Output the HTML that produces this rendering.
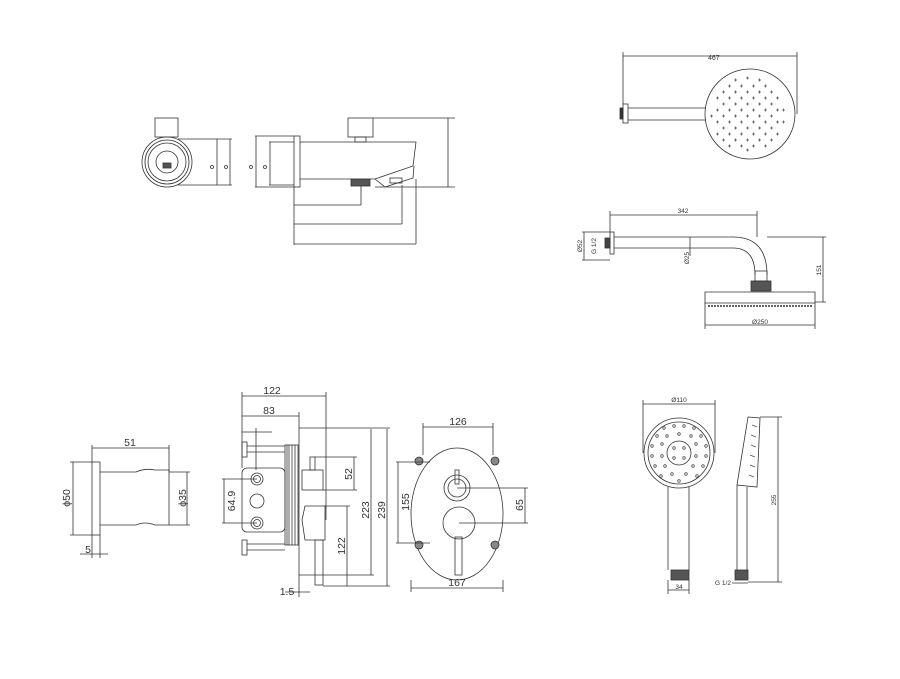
<!DOCTYPE html>
<html><head><meta charset="utf-8"><style>
html,body{margin:0;padding:0;background:#fff;}
svg{display:block;}
text{font-family:"Liberation Sans",sans-serif;fill:#333;}
</style></head><body>
<svg width="900" height="679" viewBox="0 0 900 679" xmlns="http://www.w3.org/2000/svg">
<g fill="none" stroke="#333" stroke-width="0.8">
<!-- top-left spout front view -->
<rect x="155" y="118" width="23" height="19"/>
<circle cx="167" cy="162" r="25"/><circle cx="167" cy="162" r="22"/><circle cx="167" cy="162" r="19"/>
<circle cx="167" cy="162" r="11"/>
<rect x="163" y="163" width="8" height="5" fill="#555"/>
<path d="M178 139H232M178 185H232M217 139V185M230 139V185"/>
<circle cx="212" cy="167" r="1.5"/><circle cx="226" cy="167" r="1.5"/>
<!-- spout side -->
<rect x="294" y="136" width="6" height="51"/>
<rect x="348" y="118" width="25" height="19"/>
<rect x="355" y="137" width="11" height="5"/>
<path d="M300 142H416L413 166L375 179H300"/>
<rect x="351" y="179" width="19" height="7" fill="#555"/>
<path d="M375 179L385 187L413 178L414 166"/>
<rect x="390" y="178" width="12" height="5"/>
<path d="M255 136H294M255 187H294M256 136V187M269 142H294M269 185H294M270 142V185"/>
<circle cx="251" cy="167" r="1.5"/><circle cx="265" cy="167" r="1.5"/>
<path d="M294 187V245M361 186V205M294 205H361M402 185V224M294 224H402M416 179V244M294 244H416"/>
<path d="M373 118H455M375 187H455M448 118V187"/>
<!-- shower head top view -->
<path d="M623 56H797M623 52V104M797 52V114"/>
<rect x="623" y="104" width="5" height="19"/>
<rect x="620" y="108" width="3" height="11" fill="#333"/>
<path d="M628 108H706M628 120H706"/>
<circle cx="750" cy="114" r="45"/>
</g>
<g fill="#555" font-size="7">
<text x="708" y="60">467</text>
</g>
<g stroke="#555" stroke-width="0.8">
<!-- nozzles pattern -->
<path d="M716 98h3M717.5 96.5v3 M728 98h3M729.5 96.5v3 M740 98h3M741.5 96.5v3 M752 98h3M753.5 96.5v3 M764 98h3M765.5 96.5v3 M776 98h3M777.5 96.5v3
M716 110h3M717.5 108.5v3 M728 110h3M729.5 108.5v3 M740 110h3M741.5 108.5v3 M752 110h3M753.5 108.5v3 M764 110h3M765.5 108.5v3 M776 110h3M777.5 108.5v3
M716 122h3M717.5 120.5v3 M728 122h3M729.5 120.5v3 M740 122h3M741.5 120.5v3 M752 122h3M753.5 120.5v3 M764 122h3M765.5 120.5v3 M776 122h3M777.5 120.5v3
M716 134h3M717.5 132.5v3 M728 134h3M729.5 132.5v3 M740 134h3M741.5 132.5v3 M752 134h3M753.5 132.5v3 M764 134h3M765.5 132.5v3 M776 134h3M777.5 132.5v3
M728 86h3M729.5 84.5v3 M740 86h3M741.5 84.5v3 M752 86h3M753.5 84.5v3 M764 86h3M765.5 84.5v3 M734 80h3M735.5 78.5v3 M746 78h3M747.5 76.5v3 M758 80h3M759.5 78.5v3
M728 146h3M729.5 144.5v3 M740 146h3M741.5 144.5v3 M752 146h3M753.5 144.5v3 M764 146h3M765.5 144.5v3 M746 150h3M747.5 148.5v3
M722 104h3M723.5 102.5v3 M734 104h3M735.5 102.5v3 M746 104h3M747.5 102.5v3 M758 104h3M759.5 102.5v3 M770 104h3M771.5 102.5v3 M782 110h3M783.5 108.5v3
M722 116h3M723.5 114.5v3 M734 116h3M735.5 114.5v3 M746 116h3M747.5 114.5v3 M758 116h3M759.5 114.5v3 M770 116h3M771.5 114.5v3 M782 122h3M783.5 120.5v3
M722 128h3M723.5 126.5v3 M734 128h3M735.5 126.5v3 M746 128h3M747.5 126.5v3 M758 128h3M759.5 126.5v3 M770 128h3M771.5 126.5v3 M710 116h3M711.5 114.5v3
M722 92h3M723.5 90.5v3 M734 92h3M735.5 90.5v3 M746 92h3M747.5 90.5v3 M758 92h3M759.5 90.5v3 M770 92h3M771.5 90.5v3
M722 140h3M723.5 138.5v3 M734 140h3M735.5 138.5v3 M746 140h3M747.5 138.5v3 M758 140h3M759.5 138.5v3 M770 140h3M771.5 138.5v3"/>
</g>
<g fill="none" stroke="#333" stroke-width="0.8">
<!-- shower side -->
<path d="M610 211V232M757 211V237M610 215H757"/>
<rect x="610" y="232" width="4" height="22"/>
<rect x="605" y="238" width="5" height="10" fill="#444"/>
<path d="M614 237H733Q767 237 767 275M614 248H733Q755 248 755 275"/>
<rect x="755" y="271" width="12" height="10"/>
<rect x="751" y="281" width="20" height="10" fill="#555"/>
<path d="M705 292H815V303H705Z"/>
<path d="M708 306H812" stroke-dasharray="2 1" stroke-width="1.5"/>
<path d="M705 303V329M815 303V329M705 325H815"/>
<path d="M582 232H610M582 260H610M584 232V260"/>
<path d="M690 237V256"/>
<path d="M767 237H826M815 302H826M823 237V302"/>
<!-- wall outlet -->
<rect x="92" y="462" width="8" height="73"/>
<path d="M100 472H136Q145 468 155 470H169V525H155Q145 521 136 525H100"/>
<path d="M92 445V462M169 445V472M92 448H169"/>
<path d="M70 462H92M70 535H92M73 462V535"/>
<path d="M169 472H190M169 525H190M187 472V525"/>
<path d="M92 535V558M100 535V558M80 554H108"/>
<!-- mixer body -->
<path d="M242 392V468M326 392V520M242 396H326M242 416H299M299 412V597"/>
<rect x="285" y="445" width="13" height="100"/>
<path d="M287 445V545M289 445V545M292 445V545M295 445V545"/>
<rect x="242" y="468" width="43" height="64" rx="5"/>
<rect x="242" y="442" width="5" height="15"/><path d="M247 446H285M247 452H285"/>
<rect x="242" y="540" width="5" height="15"/><path d="M247 544H285M247 550H285"/>
<path d="M242 432H272M256 428V470"/>
<circle cx="257" cy="479" r="6"/><circle cx="257" cy="479" r="3.5"/>
<circle cx="257" cy="501" r="7"/>
<circle cx="257" cy="523" r="6"/><circle cx="257" cy="523" r="3.5"/>
<path d="M222 479H257M222 523H257M224 479V523"/>
<rect x="310" y="457" width="5" height="13"/>
<rect x="302" y="470" width="21" height="20"/>
<path d="M305 506H325V540H305L302 520Z"/>
<rect x="315" y="540" width="8" height="45"/>
<path d="M299 428H390M315 457H357M323 490H357M354 457V490"/>
<path d="M325 506H350M323 586H390M347 506V586M299 575H374M371 429V575M387 429V586"/>
<path d="M285 592H299M299 592H310"/>
<!-- faceplate -->
<ellipse cx="457" cy="514" rx="46" ry="66"/>
<circle cx="419" cy="461" r="4" fill="#888"/><circle cx="495" cy="461" r="4" fill="#888"/>
<circle cx="419" cy="545" r="4" fill="#888"/><circle cx="495" cy="545" r="4" fill="#888"/>
<circle cx="457" cy="488" r="13"/><circle cx="457" cy="488" r="9"/>
<rect x="455" y="470" width="4" height="14"/>
<circle cx="459" cy="523" r="16"/>
<rect x="455" y="537" width="7" height="38"/>
<path d="M423 423V455M493 423V455M423 427H493"/>
<path d="M411 580V592M503 580V592M411 588H503"/>
<path d="M396 462H430M396 543H430M398 462V543"/>
<path d="M457 488H528M459 523H528M525 488V523"/>
<!-- hand shower front -->
<path d="M643 400V453M715 400V453M643 404H715"/>
<circle cx="679" cy="453" r="35"/><circle cx="679" cy="453" r="31"/>
<circle cx="679" cy="453" r="12"/>
<path d="M668 487V570M689 487V570"/>
<rect x="671" y="570" width="18" height="10" fill="#555"/>
<path d="M668 580V594M689 580V594M668 590H689"/>
<!-- hand shower side -->
<path d="M748 417L760 418L757 487L737 485Z"/>
<path d="M737 485V570M747 487V570"/>
<rect x="735" y="570" width="13" height="10" fill="#555"/>
<path d="M760 417H782M748 582H782M778 417V582M732 583H748"/>
</g>
<g fill="none" stroke="#555" stroke-width="0.8">
<circle cx="664" cy="428" r="1.3"/><circle cx="674" cy="426" r="1.3"/><circle cx="684" cy="426" r="1.3"/><circle cx="694" cy="428" r="1.3"/>
<circle cx="657" cy="436" r="1.3"/><circle cx="667" cy="436" r="1.3"/><circle cx="679" cy="434" r="1.3"/><circle cx="691" cy="436" r="1.3"/><circle cx="701" cy="436" r="1.3"/>
<circle cx="652" cy="446" r="1.3"/><circle cx="662" cy="444" r="1.3"/><circle cx="696" cy="444" r="1.3"/><circle cx="706" cy="446" r="1.3"/>
<circle cx="652" cy="456" r="1.3"/><circle cx="662" cy="456" r="1.3"/><circle cx="696" cy="456" r="1.3"/><circle cx="706" cy="456" r="1.3"/>
<circle cx="655" cy="466" r="1.3"/><circle cx="665" cy="466" r="1.3"/><circle cx="693" cy="466" r="1.3"/><circle cx="703" cy="466" r="1.3"/>
<circle cx="661" cy="476" r="1.3"/><circle cx="672" cy="474" r="1.3"/><circle cx="686" cy="474" r="1.3"/><circle cx="697" cy="476" r="1.3"/><circle cx="679" cy="481" r="1.3"/>
<circle cx="674" cy="448" r="1.3"/><circle cx="684" cy="448" r="1.3"/><circle cx="674" cy="458" r="1.3"/><circle cx="684" cy="458" r="1.3"/>
<path d="M752 425l5 2M751 435l5 2M751 445l5 2M750 455l5 2M750 465l5 2M749 475l5 2"/>
</g>
<g font-size="10.5">
<text x="272" y="394" text-anchor="middle">122</text>
<text x="269" y="414" text-anchor="middle">83</text>
<text x="130" y="446" text-anchor="middle">51</text>
<text x="458" y="425" text-anchor="middle">126</text>
<text x="457" y="586" text-anchor="middle">167</text>
<text x="287" y="595" text-anchor="middle">1.5</text>
<text x="88" y="553" text-anchor="middle">5</text>
<text transform="translate(70 498) rotate(-90)" text-anchor="middle">ϕ50</text>
<text transform="translate(186 498) rotate(-90)" text-anchor="middle">ϕ35</text>
<text transform="translate(235 501) rotate(-90)" text-anchor="middle">64.9</text>
<text transform="translate(352 474) rotate(-90)" text-anchor="middle">52</text>
<text transform="translate(345 546) rotate(-90)" text-anchor="middle">122</text>
<text transform="translate(369 510) rotate(-90)" text-anchor="middle">223</text>
<text transform="translate(385 510) rotate(-90)" text-anchor="middle">239</text>
<text transform="translate(409 502) rotate(-90)" text-anchor="middle">155</text>
<text transform="translate(523 505) rotate(-90)" text-anchor="middle">65</text>
</g>
<g font-size="6.5" fill="#555">
<text x="683" y="213" text-anchor="middle">342</text>
<text x="760" y="324" text-anchor="middle">Ø250</text>
<text transform="translate(582 246) rotate(-90)" text-anchor="middle">Ø52</text>
<text transform="translate(596 246) rotate(-90)" text-anchor="middle">G 1/2</text>
<text transform="translate(689 258) rotate(-90)" text-anchor="middle">Ø25</text>
<text transform="translate(821 270) rotate(-90)" text-anchor="middle">151</text>
<text x="679" y="402" text-anchor="middle">Ø110</text>
<text x="679" y="589" text-anchor="middle">34</text>
<text x="723" y="585" text-anchor="middle">G 1/2</text>
<text transform="translate(776 500) rotate(-90)" text-anchor="middle">255</text>
</g>
</svg>
</body></html>
